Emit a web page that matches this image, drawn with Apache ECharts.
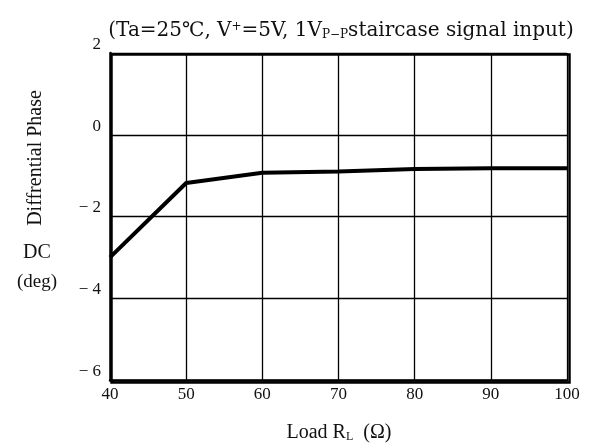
<!DOCTYPE html>
<html>
<head>
<meta charset="utf-8">
<script src="https://cdn.jsdelivr.net/npm/echarts@6/dist/echarts.min.js"></script>
<style>
  html, body { margin: 0; padding: 0; background: #fff; }
  #chart { width: 594px; height: 448px; }
</style>
</head>
<body>
<div id="chart"></div>
<script>
// load resistance (ohm) and DC differential phase (deg)
var loadR = [40, 50, 60, 70, 80, 90, 100];
var phase = [-3.0, -1.18, -0.93, -0.9, -0.84, -0.82, -0.82];

var serif = '"Liberation Serif", "DejaVu Serif", serif';
var wide = '"DejaVu Serif", "Liberation Serif", serif';
var chart = echarts.init(document.getElementById('chart'));

chart.setOption({
  animation: false,
  grid: { left: 110, right: 27, top: 53, bottom: 68 },
  xAxis: {
    type: 'value', min: 40, max: 100, interval: 10,
    axisLine: { show: true, onZero: false, lineStyle: { color: '#000', width: 2.5 } },
    axisTick: { show: false },
    axisLabel: { fontFamily: serif, fontSize: 17, color: '#111', margin: 6 },
    splitLine: { show: true, lineStyle: { color: '#000', width: 1.3 } }
  },
  yAxis: {
    type: 'value', min: -6, max: 2, interval: 2,
    axisLine: { show: true, lineStyle: { color: '#000', width: 2.5 } },
    axisTick: { show: false },
    axisLabel: {
      fontFamily: serif, fontSize: 17, color: '#111', margin: 9,
      verticalAlign: 'bottom',
      formatter: function (v) { return v < 0 ? '− ' + (-v) : String(v); }
    },
    splitLine: { show: true, lineStyle: { color: '#000', width: 1.3 } }
  },
  graphic: [
    { type: 'rect', left: 109, top: 52, shape: { width: 458, height: 328 },
      style: { fill: 'none', stroke: '#000', lineWidth: 2.5 }, silent: true },
    { type: 'text', x: 341, y: 31,
      style: { text: '(Ta=25℃, V{sup|+}=5V, 1V{sub|P−P}staircase signal input)',
               font: '20px ' + wide, fill: '#111', align: 'center', verticalAlign: 'middle',
               rich: {
                 sup: { font: '12px ' + wide, fill: '#111', padding: [0, 0, 8, 0] },
                 sub: { font: '12px ' + wide, fill: '#111', padding: [7, 0, 0, 0] }
               } } },
    { type: 'text', x: 36, y: 158, rotation: Math.PI / 2,
      style: { text: 'Diffrential Phase', font: '20px ' + serif, fill: '#111',
               align: 'center', verticalAlign: 'middle' } },
    { type: 'text', x: 37, y: 253,
      style: { text: 'DC', font: '20px ' + serif, fill: '#111',
               align: 'center', verticalAlign: 'middle' } },
    { type: 'text', x: 37, y: 282,
      style: { text: '(deg)', font: '19px ' + serif, fill: '#111',
               align: 'center', verticalAlign: 'middle' } },
    { type: 'text', x: 339, y: 433,
      style: { text: 'Load R{s|L}  (Ω)', font: '20px ' + serif, fill: '#111',
               align: 'center', verticalAlign: 'middle',
               rich: { s: { font: '12px ' + serif, fill: '#111', padding: [7, 0, 0, 0] } } } }
  ],
  series: [{
    type: 'line',
    data: loadR.map(function (x, i) { return [x, phase[i]]; }),
    symbol: 'none',
    lineStyle: { color: '#000', width: 4 }
  }]
});
</script>
</body>
</html>
